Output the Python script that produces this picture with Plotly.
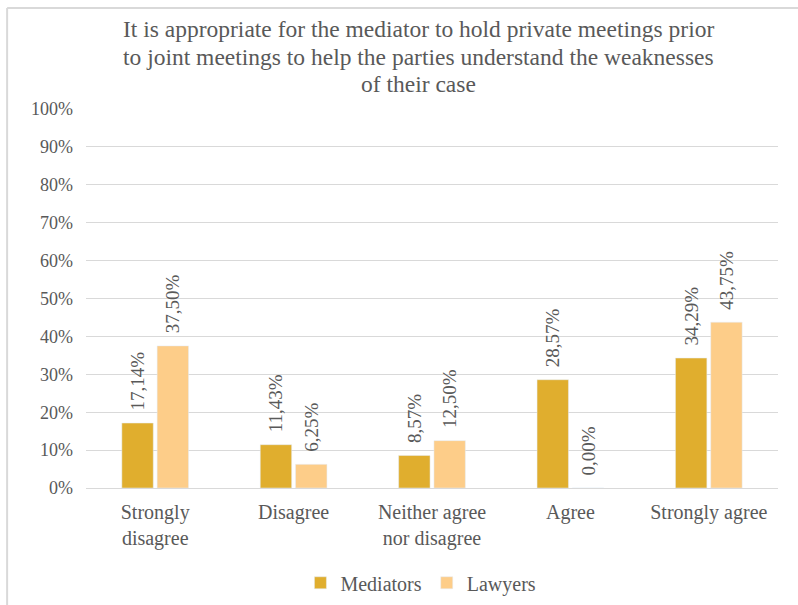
import plotly.graph_objects as go

categories = ["Strongly<br>disagree", "Disagree", "Neither agree<br>nor disagree", "Agree", "Strongly agree"]
mediators = [17.14, 11.43, 8.57, 28.57, 34.29]
lawyers = [37.50, 6.25, 12.50, 0.00, 43.75]
y_ticks = [0, 10, 20, 30, 40, 50, 60, 70, 80, 90, 100]
y_tick_labels = [f"{v}%" for v in y_ticks]

title_lines = [
    "It is appropriate for the mediator to hold private meetings prior",
    "to joint meetings to help the parties understand the weaknesses",
    "of their case",
]

FONT = "Liberation Serif"
GREY = "#595959"


def pct_label(v):
    # leading non-breaking spaces lift the rotated label a little off the bar
    return "\u00a0\u00a0" + f"{v:.2f}".replace(".", ",") + "%"


def bar_trace(name, values, color):
    return go.Bar(
        name=name, x=categories, y=values,
        marker=dict(color=color),
        text=[pct_label(v) for v in values],
        textposition="outside", textangle=-90, constraintext="none",
        textfont=dict(family=FONT, size=19, color=GREY),
        cliponaxis=False,
    )


fig = go.Figure()
fig.add_trace(bar_trace("Mediators", mediators, "#E0AE2E"))
fig.add_trace(bar_trace("Lawyers", lawyers, "#FDCD89"))

# title drawn line by line for tighter line spacing
title_y = [1.211, 1.137, 1.066]
title_annotations = [
    dict(text=line, xref="paper", yref="paper", x=0.48, y=ty,
         xanchor="center", yanchor="middle", showarrow=False,
         font=dict(family=FONT, size=23.5, color=GREY))
    for line, ty in zip(title_lines, title_y)
]

fig.update_layout(
    width=798, height=605,
    margin=dict(l=86, r=20, t=109, b=117, autoexpand=False),
    paper_bgcolor="white", plot_bgcolor="white",
    barmode="group", bargap=0.49, bargroupgap=0.11,
    font=dict(family=FONT, color=GREY),
    legend=dict(orientation="h", x=0.484, xanchor="center", y=-0.25, yanchor="middle",
                font=dict(family=FONT, size=20, color=GREY),
                itemwidth=30, traceorder="normal"),
    xaxis=dict(showgrid=False, showline=True, linecolor="#D9D9D9", linewidth=1,
               ticks="", automargin=False, ticklabelstandoff=6,
               tickfont=dict(family=FONT, size=20, color=GREY)),
    yaxis=dict(range=[0, 100], tickvals=y_ticks, ticktext=y_tick_labels,
               showgrid=True, gridcolor="#D9D9D9", gridwidth=1,
               zeroline=True, zerolinecolor="#D9D9D9", zerolinewidth=1,
               showline=False, ticks="", ticklen=0, automargin=False,
               ticklabelstandoff=12,
               tickfont=dict(family=FONT, size=18, color=GREY)),
    annotations=title_annotations,
    shapes=[
        dict(type="line", xref="paper", yref="paper",
             x0=-0.114, x1=1.05, y0=1.2665, y1=1.2665,
             line=dict(color="#D9D9D9", width=2)),
        dict(type="line", xref="paper", yref="paper",
             x0=-0.114, x1=-0.114, y0=-0.33, y1=1.2665,
             line=dict(color="#D9D9D9", width=2)),
    ],
)

fig.write_html("out.html")
